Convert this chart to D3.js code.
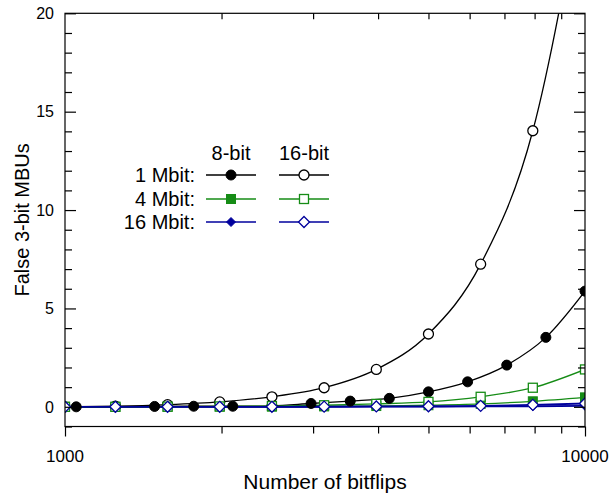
<!DOCTYPE html>
<html>
<head>
<meta charset="utf-8">
<script src="https://cdn.jsdelivr.net/npm/d3@7"></script>
<style>
  body { margin: 0; background: #fff; }
  svg text { font-family: "Liberation Sans", Arial, sans-serif; fill: #000; }
</style>
</head>
<body>
<div id="chart"></div>
<script>
// x positions (number of bitflips)
const x16 = [1000, 1250, 1575, 1984, 2500, 3150, 3969, 5000, 6300, 7937, 10000];
const x8 = [884, 1051, 1250, 1487, 1768, 2102, 2500, 2973, 3536, 4204, 5000, 5946, 7071, 8409, 10000];

// False 3-bit MBUs
const mbit1_8 = [0, 0, 0, 0.02, 0.03, 0.03, 0.05, 0.17, 0.29, 0.43, 0.76, 1.27, 2.12, 3.53, 5.88];
const mbit1_16 = [0, 0.03, 0.11, 0.25, 0.51, 0.97, 1.9, 3.7, 7.25, 14.03, 27.3];
const mbit4_8 = [0, 0, 0, 0.01, 0.01, 0.02, 0.04, 0.08, 0.15, 0.28, 0.48];
const mbit4_16 = [0, 0, 0.01, 0.02, 0.04, 0.08, 0.15, 0.25, 0.51, 0.97, 1.9];
const mbit16_8 = [0, 0, 0, 0, 0, 0, 0.01, 0.01, 0.02, 0.03, 0.05];
const mbit16_16 = [0, 0, 0, 0, 0, 0.01, 0.02, 0.03, 0.05, 0.1, 0.17];

const xTicks = [1000, 10000];
const xMinor = [2000, 3000, 4000, 5000, 6000, 7000, 8000, 9000];
const yTicks = [0, 5, 10, 15, 20];

const green = "#168c16";
const blue = "#00009c";

// series, in drawing order
const series = [
    { xs: x16, ys: mbit16_8, color: blue, shape: "diamond", open: false, width: 1.8 },
    { xs: x16, ys: mbit4_8, color: green, shape: "square", open: false, width: 1.3 },
    { xs: x8, ys: mbit1_8, color: "#000", shape: "circle", open: false, width: 1.3 },
    { xs: x16, ys: mbit1_16, color: "#000", shape: "circle", open: true, width: 1.3 },
    { xs: x16, ys: mbit4_16, color: green, shape: "square", open: true, width: 1.3 },
    { xs: x16, ys: mbit16_16, color: blue, shape: "diamond", open: true, width: 1.8 }
];

const width = 610, height = 494;
const mLeft = 65, mRight = 585, mTop = 13.3, mBottom = 426.5;

const svg = d3.select("#chart").append("svg")
    .attr("width", width)
    .attr("height", height);

const x = d3.scaleLog().domain([1000, 10000]).range([mLeft, mRight]);
const y = d3.scaleLinear().domain([-1, 20]).range([mBottom, mTop]);

svg.append("defs").append("clipPath").attr("id", "plot")
   .append("rect")
   .attr("x", mLeft).attr("y", mTop)
   .attr("width", mRight - mLeft).attr("height", mBottom - mTop);

// marker drawing helper
function marker(sel, shape, open, color) {
    if (shape === "circle") {
        sel.append("circle").attr("r", 5);
    } else if (shape === "square") {
        sel.append("rect").attr("x", -4.5).attr("y", -4.5).attr("width", 9).attr("height", 9);
    } else {
        const s = open ? 5.5 : 4.5;
        sel.append("path").attr("d", `M0,${-s}L${s},0L0,${s}L${-s},0Z`);
    }
    sel.selectAll("*")
       .attr("fill", open ? "#fff" : color)
       .attr("stroke", color)
       .attr("stroke-width", open ? 1.3 : 1);
}

const line = d3.line()
    .x(d => x(d[0]))
    .y(d => y(d[1]))
    .curve(d3.curveMonotoneX);

const plot = svg.append("g").attr("clip-path", "url(#plot)");

series.forEach(s => {
    plot.append("path")
        .datum(s.xs.map((v, i) => [v, s.ys[i]]))
        .attr("d", line)
        .attr("fill", "none")
        .attr("stroke", s.color)
        .attr("stroke-width", s.width);
});

series.forEach(s => {
    s.xs.forEach((v, i) => {
        const g = plot.append("g").attr("transform", `translate(${x(v)},${y(s.ys[i])})`);
        marker(g, s.shape, s.open, s.color);
    });
});

// frame
svg.append("rect")
   .attr("x", mLeft).attr("y", mTop)
   .attr("width", mRight - mLeft).attr("height", mBottom - mTop)
   .attr("fill", "none").attr("stroke", "#000").attr("stroke-width", 1.2);

const yMinor = d3.range(-1, 20).filter(v => v % 5 !== 0);

// y axes (ticks inside)
const yLeft = svg.append("g").attr("transform", `translate(${mLeft},0)`)
    .call(d3.axisRight(y).tickValues(yTicks).tickSize(11).tickFormat(""));
const yLeftMinor = svg.append("g").attr("transform", `translate(${mLeft},0)`)
    .call(d3.axisRight(y).tickValues(yMinor).tickSize(7).tickFormat(""));
const yRight = svg.append("g").attr("transform", `translate(${mRight},0)`)
    .call(d3.axisLeft(y).tickValues(yTicks).tickSize(11).tickFormat(""));
const yRightMinor = svg.append("g").attr("transform", `translate(${mRight},0)`)
    .call(d3.axisLeft(y).tickValues(yMinor).tickSize(7).tickFormat(""));

// x axes: bottom ticks outside, top ticks inside
const xBottom = svg.append("g").attr("transform", `translate(0,${mBottom})`)
    .call(d3.axisBottom(x).tickValues(xTicks).tickSize(10).tickFormat(""));
const xBottomMinor = svg.append("g").attr("transform", `translate(0,${mBottom})`)
    .call(d3.axisBottom(x).tickValues(xMinor).tickSize(7).tickFormat(""));
const xTop = svg.append("g").attr("transform", `translate(0,${mTop})`)
    .call(d3.axisBottom(x).tickValues(xMinor).tickSize(6).tickFormat(""));

[yLeft, yLeftMinor, yRight, yRightMinor, xBottom, xBottomMinor, xTop].forEach(a => {
    a.select(".domain").remove();
    a.selectAll("line").attr("stroke", "#000").attr("stroke-width", 1.2);
});

// tick labels
svg.selectAll(".ylab").data(yTicks).enter().append("text")
   .attr("x", mLeft - 11)
   .attr("y", d => y(d))
   .attr("dy", "0.36em")
   .attr("text-anchor", "end")
   .style("font-size", "16px")
   .text(d => d);

svg.selectAll(".xlab").data(xTicks).enter().append("text")
   .attr("x", d => x(d))
   .attr("y", 461.5)
   .attr("text-anchor", "middle")
   .style("font-size", "17px")
   .text(d => d);

// axis titles
svg.append("text")
   .attr("x", (mLeft + mRight) / 2)
   .attr("y", 489)
   .attr("text-anchor", "middle")
   .style("font-size", "21px")
   .text("Number of bitflips");

svg.append("text")
   .attr("transform", `translate(29,${(mTop + mBottom) / 2}) rotate(-90)`)
   .attr("text-anchor", "middle")
   .style("font-size", "20px")
   .text("False 3-bit MBUs");

// legend
const legendRows = ["1 Mbit:", "4 Mbit:", "16 Mbit:"];
const legendColors = ["#000", green, blue];
const legendShapes = ["circle", "square", "diamond"];
const legendCols = ["8-bit", "16-bit"];
const colX = [231, 304];
const rowY = [175, 199, 222];

legendCols.forEach((c, j) => {
    svg.append("text")
       .attr("x", colX[j]).attr("y", 160)
       .attr("text-anchor", "middle")
       .style("font-size", "20px")
       .text(c);
});

legendRows.forEach((r, i) => {
    svg.append("text")
       .attr("x", 195).attr("y", rowY[i])
       .attr("dy", "0.36em")
       .attr("text-anchor", "end")
       .style("font-size", "20px")
       .text(r);
    colX.forEach((cx, j) => {
        svg.append("line")
           .attr("x1", cx - 25).attr("x2", cx + 25)
           .attr("y1", rowY[i]).attr("y2", rowY[i])
           .attr("stroke", legendColors[i]).attr("stroke-width", 1.3);
        const g = svg.append("g").attr("transform", `translate(${cx},${rowY[i]})`);
        marker(g, legendShapes[i], j === 1, legendColors[i]);
    });
});
</script>
</body>
</html>
